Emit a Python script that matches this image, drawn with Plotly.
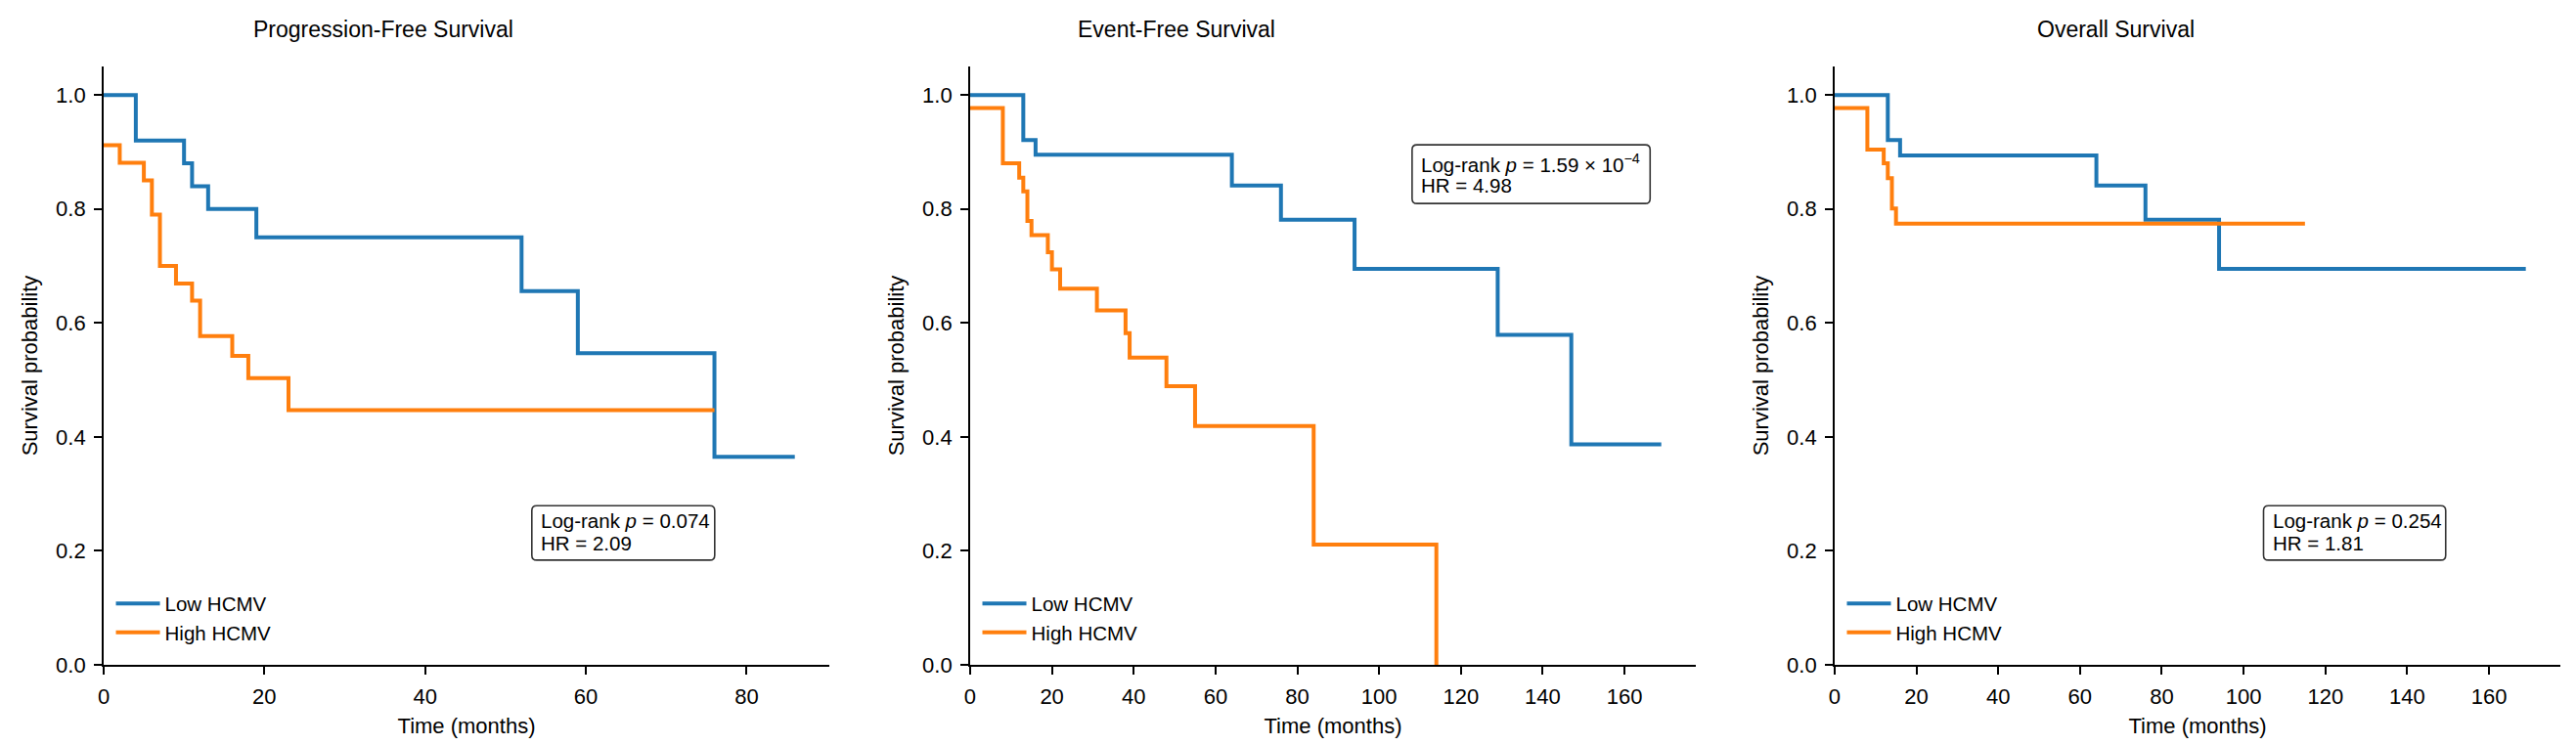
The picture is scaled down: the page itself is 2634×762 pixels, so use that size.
import plotly.graph_objects as go

# Kaplan-Meier step data (time in months, survival probability)
panel_titles = ["Progression-Free Survival", "Event-Free Survival", "Overall Survival"]
group_names = ["Low HCMV", "High HCMV"]

pfs_low_t = [0, 4, 10, 11, 13, 19, 52, 59, 76, 86]
pfs_low_s = [1.0, 0.92, 0.88, 0.84, 0.80, 0.75, 0.656, 0.547, 0.365, 0.365]
pfs_high_t = [0, 2, 5, 6, 7, 9, 11, 12, 16, 18, 23, 76]
pfs_high_s = [0.912, 0.881, 0.850, 0.790, 0.700, 0.669, 0.639, 0.577, 0.542, 0.503, 0.447, 0.447]

efs_low_t = [0, 13, 16, 64, 76, 94, 129, 147, 169]
efs_low_s = [1.0, 0.921, 0.895, 0.841, 0.781, 0.695, 0.579, 0.387, 0.387]
efs_high_t = [0, 8, 12, 13, 14, 15, 19, 20, 22, 31, 38, 39, 48, 55, 84, 114]
efs_high_s = [0.977, 0.880, 0.855, 0.831, 0.779, 0.754, 0.724, 0.694, 0.660, 0.622,
              0.582, 0.539, 0.489, 0.419, 0.211, 0.0]

os_low_t = [0, 13, 16, 64, 76, 94, 169]
os_low_s = [1.0, 0.921, 0.894, 0.841, 0.781, 0.695, 0.695]
os_high_t = [0, 8, 12, 13, 14, 15, 115]
os_high_s = [0.977, 0.904, 0.880, 0.854, 0.801, 0.774, 0.774]

p_labels = ["0.074", "1.59 × 10<sup>−4</sup>", "0.254"]
hr_labels = ["2.09", "4.98", "1.81"]

curves = [
    ((pfs_low_t, pfs_low_s), (pfs_high_t, pfs_high_s)),
    ((efs_low_t, efs_low_s), (efs_high_t, efs_high_s)),
    ((os_low_t, os_low_s), (os_high_t, os_high_s)),
]
x_max = [86, 169, 169]

colors = ["#1f77b4", "#ff7f0e"]
font = "Liberation Sans, Arial, sans-serif"

# panel layout (paper fractions)
domains = [[0.0, 0.2954], [0.3527, 0.6481], [0.7046, 1.0]]
title_x = [0.385, 0.285, 0.388]
# stat box placement in axes fractions: (box x0, x1, y0, y1, text x, line1 y, line2 y)
boxes = [
    (0.590, 0.842, 0.175, 0.266, 0.600, 0.2406, 0.203),
    (0.609, 0.937, 0.771, 0.869, 0.619, 0.8375, 0.8016),
    (0.591, 0.842, 0.175, 0.266, 0.601, 0.2406, 0.203),
]


def rounded_box(x0, x1, y0, y1, rx, ry):
    return (f"M{x0 + rx},{y0} L{x1 - rx},{y0} Q{x1},{y0} {x1},{y0 + ry} "
            f"L{x1},{y1 - ry} Q{x1},{y1} {x1 - rx},{y1} L{x0 + rx},{y1} "
            f"Q{x0},{y1} {x0},{y1 - ry} L{x0},{y0 + ry} Q{x0},{y0} {x0 + rx},{y0} Z")


fig = go.Figure()
legends = ["legend", "legend2", "legend3"]

for i, pair in enumerate(curves):
    xa = "x" if i == 0 else f"x{i + 1}"
    ya = "y" if i == 0 else f"y{i + 1}"
    for j, (t, s) in enumerate(pair):
        fig.add_trace(go.Scatter(
            x=t, y=s, mode="lines", line=dict(color=colors[j], width=4, shape="hv"),
            name=group_names[j], xaxis=xa, yaxis=ya, legend=legends[i],
        ))

axis_common = dict(
    showline=True, linecolor="black", linewidth=1.8, mirror=False,
    ticks="outside", ticklen=8, tickwidth=1.8, tickcolor="black",
    showgrid=False, zeroline=False, automargin=False,
    tickfont=dict(family=font, size=22, color="black"),
    ticklabelstandoff=4,
)

layout = dict(
    template="none",
    width=2634, height=762,
    margin=dict(l=98, r=24, t=60, b=90),
    plot_bgcolor="white", paper_bgcolor="white",
    font=dict(family=font, color="black"),
    showlegend=True,
)

for i in range(3):
    xkey = "xaxis" if i == 0 else f"xaxis{i + 1}"
    ykey = "yaxis" if i == 0 else f"yaxis{i + 1}"
    xa = "x" if i == 0 else f"x{i + 1}"
    layout[xkey] = dict(
        axis_common, domain=domains[i], range=[0, x_max[i] * 1.05], dtick=20,
        anchor="y" if i == 0 else f"y{i + 1}",
        title=dict(text="Time (months)", font=dict(family=font, size=22), standoff=10),
    )
    layout[ykey] = dict(
        axis_common, domain=[0, 1], range=[0, 1.05], tickvals=[0, 0.2, 0.4, 0.6, 0.8, 1.0],
        tickformat=".1f", anchor=xa,
        title=dict(text="Survival probability", font=dict(family=font, size=22), standoff=12),
    )
    layout[legends[i]] = dict(
        x=domains[i][0] + 0.003, y=0.135, xanchor="left", yanchor="top",
        bgcolor="rgba(0,0,0,0)", font=dict(family=font, size=20.5),
        tracegroupgap=2, itemwidth=45,
    )

fig.update_layout(**layout)

annotations = []
shapes = []
for i in range(3):
    xd = "x domain" if i == 0 else f"x{i + 1} domain"
    annotations.append(dict(
        text=panel_titles[i], xref=xd, yref="paper", x=title_x[i], y=1.062,
        xanchor="center", yanchor="middle", showarrow=False,
        font=dict(family=font, size=23, color="black"),
    ))
    bx0, bx1, by0, by1, tx, ty1, ty2 = boxes[i]
    d0, d1 = domains[i]
    w = d1 - d0
    shapes.append(dict(
        type="path", xref="paper", yref="paper",
        path=rounded_box(d0 + bx0 * w, d0 + bx1 * w, by0, by1, 5 / 2512, 5 / 612),
        line=dict(color="#333333", width=1.6), fillcolor="white", layer="above",
    ))
    annotations.append(dict(
        text=f"Log-rank <i>p</i> = {p_labels[i]}", xref=xd, yref="paper", x=tx, y=ty1,
        xanchor="left", yanchor="middle", showarrow=False,
        font=dict(family=font, size=20.5, color="black"),
    ))
    annotations.append(dict(
        text=f"HR = {hr_labels[i]}", xref=xd, yref="paper", x=tx, y=ty2,
        xanchor="left", yanchor="middle", showarrow=False,
        font=dict(family=font, size=20.5, color="black"),
    ))

fig.update_layout(annotations=annotations, shapes=shapes)

fig.write_html("out.html")
